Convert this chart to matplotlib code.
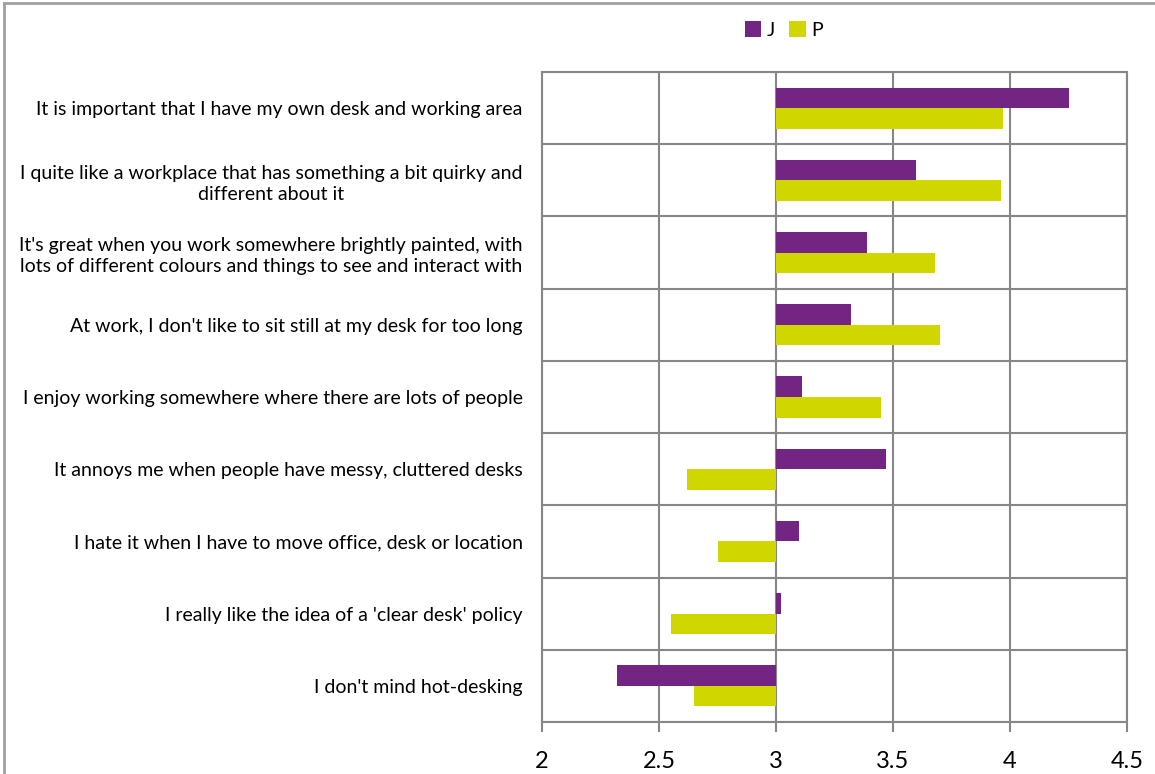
import matplotlib.pyplot as plt
import numpy as np
from matplotlib.lines import Line2D

statements = [
    "It is important that I have my own desk and working area",
    "I quite like a workplace that has something a bit quirky and\ndifferent about it",
    "It's great when you work somewhere brightly painted, with\nlots of different colours and things to see and interact with",
    "At work, I don't like to sit still at my desk for too long",
    "I enjoy working somewhere where there are lots of people",
    "It annoys me when people have messy, cluttered desks",
    "I hate it when I have to move office, desk or location",
    "I really like the idea of a 'clear desk' policy",
    "I don't mind hot-desking",
]
j_scores = [4.25, 3.60, 3.39, 3.32, 3.11, 3.47, 3.10, 3.02, 2.32]
p_scores = [3.97, 3.96, 3.68, 3.70, 3.45, 2.62, 2.75, 2.55, 2.65]
xticks = [2, 2.5, 3, 3.5, 4, 4.5]

plt.rcParams['font.family'] = ['Lato', 'DejaVu Sans']

fig = plt.figure(figsize=(11.55, 7.74), dpi=100)
ax = fig.add_axes([542/1155, 1-722/774, (1127-542)/1155, (722-72)/774])

grid_c = '#878787'
purple = '#722582'
lime = '#cfd600'
base = 3.0
h = 0.285

y = np.arange(len(statements))
ax.barh(y - h/2, np.array(j_scores) - base, height=h, left=base,
        color=purple, label='J', zorder=3)
ax.barh(y + h/2, np.array(p_scores) - base, height=h, left=base,
        color=lime, label='P', zorder=3)

ax.set_xlim(2, 4.5)
ax.set_ylim(len(statements) - 0.5, -0.5)
ax.set_xticks(xticks)
ax.set_xticklabels([('%g' % t) for t in xticks], fontsize=17)
ax.set_yticks(y)
ax.set_yticklabels(statements, fontsize=14, multialignment='center',
                   linespacing=1.3)
ax.set_yticks(np.arange(len(statements) + 1) - 0.5, minor=True)

ax.tick_params(axis='y', which='major', length=0, pad=14)
ax.tick_params(axis='y', which='minor', length=0)
ax.tick_params(axis='x', length=7, color=grid_c, width=1.5, pad=14)

ax.grid(axis='x', which='major', color=grid_c, lw=1.5, zorder=1)
ax.grid(axis='y', which='minor', color=grid_c, lw=1.5, zorder=1)
ax.set_axisbelow(True)
for s in ax.spines.values():
    s.set_color(grid_c)
    s.set_linewidth(1.5)

# small tick marks on the category axis crossing at 3
for b in np.arange(len(statements) + 1) - 0.5:
    ax.plot([base - 0.025, base], [b, b], color=grid_c, lw=1.5, zorder=2,
            solid_capstyle='butt')

ax.legend(loc='upper center', bbox_to_anchor=(784/1155, 1-4/774),
          bbox_transform=fig.transFigure, ncol=2, frameon=False,
          fontsize=14, handlelength=0.85, handleheight=0.85,
          handletextpad=0.3, columnspacing=0.7)

# chart border
fig.add_artist(Line2D([4/1155, 4/1155], [0, 1-3/774], color='#a0a0a0',
                      lw=2, transform=fig.transFigure))
fig.add_artist(Line2D([4/1155, 1], [1-3/774, 1-3/774], color='#a0a0a0',
                      lw=2, transform=fig.transFigure))

fig.savefig('out.png', dpi=100)
